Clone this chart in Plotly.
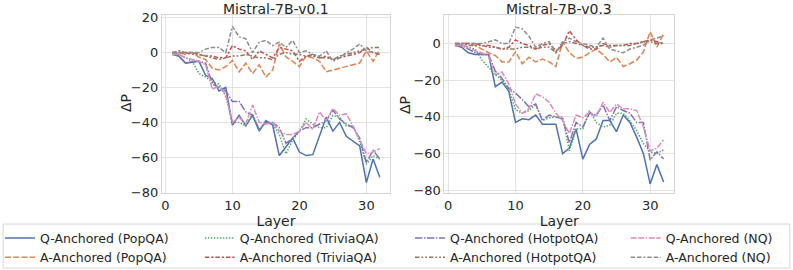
import plotly.graph_objects as go

layers = list(range(1, 33))

titles = ["Mistral-7B-v0.1", "Mistral-7B-v0.3"]

# ---- Mistral-7B-v0.1 ----
v01_q_popqa = [-1, -2, -6, -5.5, -5, -13, -15, -22, -20, -41.5, -36, -42, -36, -45, -39, -41.5,
               -59, -54, -49, -57, -59, -58.5, -48, -37, -45, -40, -48, -51, -53.5, -74.5, -61, -71.5]
v01_q_trivia = [-1, -1, -3, -5, -12, -14, -17, -18, -25, -40, -40, -42, -35, -44, -40, -41,
                -47, -58, -50, -45, -38, -41, -43, -43, -36, -37, -42, -42, -51, -64, -59, -61]
v01_q_hotpot = [-1, -2, -6, -5, -5, -6, -18, -20, -22, -28, -28, -34, -36, -44, -40, -40,
                -43, -52, -49, -45, -43, -43, -41, -39, -33, -38, -41, -43, -49, -63, -56, -61]
v01_q_nq = [-1, -1, -3, -4, -5, -7, -21, -19, -24, -40, -37, -41, -30, -40, -41, -40,
            -45, -47, -47, -45, -40, -44, -34, -39, -32, -36, -35, -42, -50, -58, -57, -55]
v01_a_popqa = [-1, 0, -1, 0, -2.5, -4, -9, -10, -8, -4.5, -11, -6, -12, -7, -14, -10,
               5, -2.5, -5, -8, -2, -3, -5, -11, -10, -9, -8, -7, -6, 1, -5, 2]
v01_a_trivia = [0, 0, 0, 0, -1, -2, -2, -3, -3, 4, 2, 1, -4, 1, -1, -3,
                3, 2, 1, -5, -2, -1, -3, -2, -4, -3, -2, -1, 0, 3, 0, -1]
v01_a_hotpot = [0, 1, 0, -1, -1, -2, -3, -4, -3, -2, -2, -1, -2, -3, -3, -4,
                -1, 0, -1, -1, -2, -2, -3, -3, -4, -2, -1, 0, 1, 2, 3, 3]
v01_a_nq = [0, 0, 0, 0, 0, 2, 3, 3, 0, 15, 9, 8, 0, 6, 7, 4,
            6, 3, 7, 0, 1, -1, -2, 1, -5, -3, 0, 2, 5, 1, 0, -1]

# ---- Mistral-7B-v0.3 ----
v03_q_popqa = [-1, -2, -5, -6, -6, -6, -23.5, -21, -26, -43, -41, -41.5, -39, -44, -44, -44,
               -60, -57, -46.5, -63, -55, -52, -42, -42, -48, -39, -43, -51, -60, -76.5, -66, -75.5]
v03_q_trivia = [-1, -1, -2, -3, -9, -13, -17, -20, -25, -36, -38, -36.5, -33, -42, -40.5, -40,
                -40, -58.5, -46.5, -46.5, -36.5, -43, -45.5, -44.5, -38, -38, -42, -47.5, -54.5, -59, -60, -58]
v03_q_hotpot = [-1, -1, -3, -5, -6, -6, -15, -19, -24.5, -27, -30.5, -34.5, -33, -42, -39, -40,
                -41, -54, -43, -45.5, -38, -39, -33.5, -42, -34.5, -36.5, -38, -43, -43, -63.5, -59, -63]
v03_q_nq = [-1, -1, -2, -4, -5, -7, -17, -15.5, -22, -33, -38, -35.5, -27.5, -29, -32, -38,
            -42, -49, -39, -40.5, -37.5, -40, -32, -37.5, -33, -35.5, -35.5, -36.5, -45.5, -58.5, -57, -52.5]
v03_a_popqa = [-1, 0, 0, -1, -3, -5, -6.5, -10, -10, -4.5, -11, -7.5, -10, -8.5, -10, -12.5,
               1, -5, -8, -7.5, -5, -3, -6, -10, -7.5, -12.5, -11, -9, -4.5, 6.5, -2, 5.5]
v03_a_trivia = [0, 0, 0, 0, -1, -1, -2, -3, -2, 2, 0, -1, -3, -1, 0, -4,
                -1, 7, 2, -1, -3, -3, 0, -1, -1, -1, 0, 0, 1, 2, 1, 0]
v03_a_hotpot = [0, 0, -1, -1, -1, -2, -2, -3, -3, -3, -2, -2, -3, -2, -2, -5,
                0, 1, 0, -1, -2, -2, -1, -2, -1, -1, -1, 0, 1, 1, 0, 0]
v03_a_nq = [0, 0, 0, 0, 0, 1, 2, 0, 0, 9, 8, 4, -2, 0, 1, -5,
            1, 3, 1, 0, -1, -2, 3, -3, -4, -5, -3, -2, -1, 2, 3, 4]

# order: Q-PopQA, A-PopQA, Q-TriviaQA, A-TriviaQA, Q-HotpotQA, A-HotpotQA, Q-NQ, A-NQ
series_names = ["Q-Anchored (PopQA)", "A-Anchored (PopQA)",
                "Q-Anchored (TriviaQA)", "A-Anchored (TriviaQA)",
                "Q-Anchored (HotpotQA)", "A-Anchored (HotpotQA)",
                "Q-Anchored (NQ)", "A-Anchored (NQ)"]
colors = ["#4C72B0", "#DD8452", "#55A868", "#C44E52", "#8172B3", "#937860", "#DA8BC3", "#8C8C8C"]
dashes = ["solid", "6px,2.25px", "1.5px,1.5px", "4.5px,1.9px,2.25px,1.9px",
          "7.5px,1.5px,1.5px,1.5px", "4.5px,1.9px,1.9px,1.9px,1.9px,1.9px",
          "6px,1.5px,6px,1.5px,1.5px,1.5px", "4.5px,1.9px,4.5px,1.9px,1.9px,1.9px"]
legend_ids = ["legend", "legend", "legend2", "legend2", "legend3", "legend3", "legend4", "legend4"]

panel_data = [
    [v01_q_popqa, v01_a_popqa, v01_q_trivia, v01_a_trivia, v01_q_hotpot, v01_a_hotpot, v01_q_nq, v01_a_nq],
    [v03_q_popqa, v03_a_popqa, v03_q_trivia, v03_a_trivia, v03_q_hotpot, v03_a_hotpot, v03_q_nq, v03_a_nq],
]

fig = go.Figure()
for p, data in enumerate(panel_data):
    xa = "x" if p == 0 else "x2"
    ya = "y" if p == 0 else "y2"
    for i, vals in enumerate(data):
        fig.add_trace(go.Scatter(
            x=layers, y=vals, mode="lines", name=series_names[i],
            line=dict(color=colors[i], width=1.5, dash=dashes[i]),
            xaxis=xa, yaxis=ya, showlegend=(p == 0), legend=legend_ids[i],
        ))

txt = "#262626"
grid = "#e3e3e3"
axis_common = dict(
    showgrid=True, gridcolor=grid, gridwidth=1, zeroline=False,
    showline=True, linecolor="#d6d6d6", linewidth=1, mirror=True,
    ticks="", automargin=False, tickfont=dict(family="DejaVu Sans", size=13, color=txt),
)

leg_common = dict(orientation="v", yanchor="top", xanchor="left", y=0.173,
                  bgcolor="rgba(0,0,0,0)", borderwidth=0, traceorder="normal",
                  font=dict(family="DejaVu Sans", size=12.5, color=txt), itemwidth=30,
                  tracegroupgap=0)

def ann(text, x, y, angle=0, size=14):
    return dict(text=text, x=x, y=y, xref="paper", yref="paper", xanchor="center", yanchor="middle",
                textangle=angle, showarrow=False, font=dict(family="DejaVu Sans", size=size, color=txt))

fig.update_layout(
    width=793, height=270,
    margin=dict(l=0, r=0, t=0, b=0, autoexpand=False),
    paper_bgcolor="white", plot_bgcolor="white",
    font=dict(family="DejaVu Sans", color=txt),
    xaxis=dict(domain=[0.204, 0.492], range=[-0.55, 33.55], tickvals=[0, 10, 20, 30],
               title=dict(text="Layer", font=dict(size=14, color=txt), standoff=1), anchor="y", **axis_common),
    yaxis=dict(domain=[0.285, 0.944], range=[-80.5, 21.5], tickvals=[-80, -60, -40, -20, 0, 20],
               anchor="x", **axis_common),
    xaxis2=dict(domain=[0.5605, 0.85], range=[-0.55, 33.55], tickvals=[0, 10, 20, 30],
                title=dict(text="Layer", font=dict(size=14, color=txt), standoff=1), anchor="y2", **axis_common),
    yaxis2=dict(domain=[0.285, 0.944], range=[-81.5, 15.5], tickvals=[-80, -60, -40, -20, 0],
                anchor="x2", **axis_common),
    legend=dict(x=0.0, **leg_common),
    legend2=dict(x=0.252, **leg_common),
    legend3=dict(x=0.517, **leg_common),
    legend4=dict(x=0.789, **leg_common),
    shapes=[dict(type="rect", xref="paper", yref="paper", x0=0.004, x1=0.996,
                 y0=1 - 268 / 270, y1=1 - 224 / 270, line=dict(color="#d6d6d6", width=1),
                 fillcolor="rgba(0,0,0,0)", layer="below")],
    annotations=[
        dict(text=titles[0], x=0.348, y=1.0, xref="paper", yref="paper", xanchor="center", yanchor="top",
             yshift=1, showarrow=False, font=dict(family="DejaVu Sans", size=14, color=txt)),
        dict(text=titles[1], x=0.705, y=1.0, xref="paper", yref="paper", xanchor="center", yanchor="top",
             yshift=1, showarrow=False, font=dict(family="DejaVu Sans", size=14, color=txt)),
        ann("ΔP", 126 / 793, 1 - 103 / 270, angle=-90),
        ann("ΔP", 405 / 793, 1 - 105 / 270, angle=-90),
    ],
)

fig.write_html("out.html", config={"displayModeBar": False},
               post_script="document.body.style.margin='0';")
